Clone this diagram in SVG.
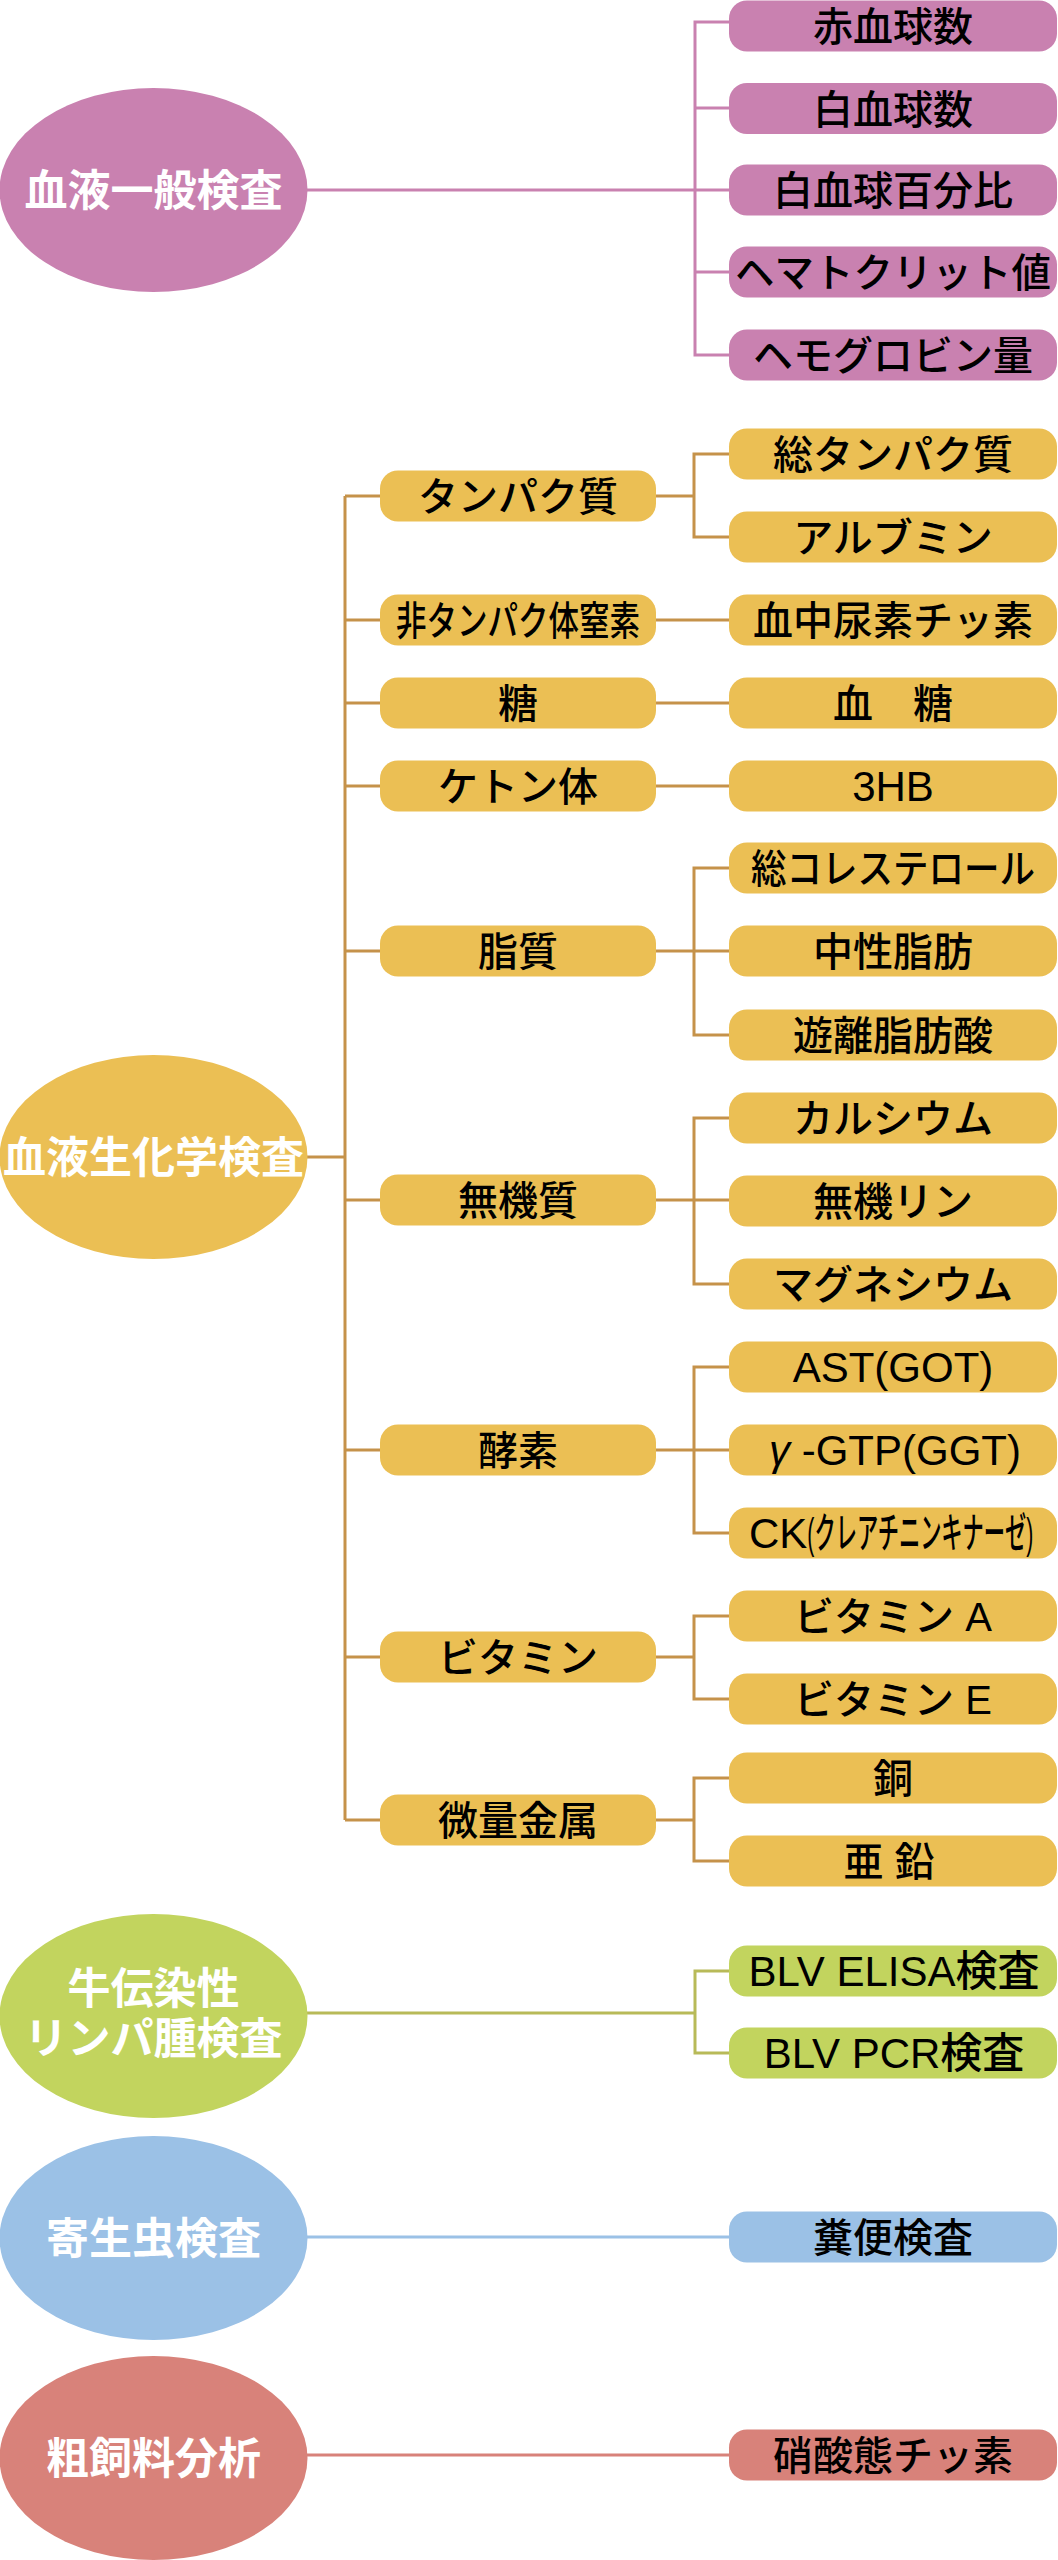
<svg xmlns="http://www.w3.org/2000/svg" width="1058" height="2560" viewBox="0 0 1058 2560">
<style>
text{font-family:"Liberation Sans","Noto Sans CJK JP",sans-serif;text-anchor:middle}
.t{font-size:40px;font-weight:500;fill:#000}
.l{font-size:42px;font-weight:500;fill:#000}
.e{font-size:43px;font-weight:bold;fill:#fff}
.c{fill:none;stroke-width:3}
.pk{fill:#C981B0}.gd{fill:#EBBF54}.gr{fill:#C2D45E}.bl{fill:#9BC1E6}.rd{fill:#D8827A}
.cpk{stroke:#C981B0}.cgd{stroke:#C5924A}.cgr{stroke:#B8BA58}.cbl{stroke:#9BC1E6}.crd{stroke:#D8827A}
</style>
<defs>
<rect id="b3" x="0" y="0" width="328" height="51" rx="18"/>
<rect id="b2" x="0" y="0" width="276" height="51" rx="18"/>
</defs>
<g id="connectors">
<path class="c cpk" d="M307,190 H729 M729,22 H695 V355 H729 M695,108 H729 M695,272 H729"/>
<path class="c cgd" d="M307,1157 H345 M345,496 V1820 M345,496 H380 M345,620 H380 M345,703 H380 M345,786 H380 M345,951 H380 M345,1200 H380 M345,1450 H380 M345,1657 H380 M345,1820 H380"/>
<path class="c cgd" d="M656,496 H694 M729,454 H694 V537 H729"/>
<path class="c cgd" d="M656,620 H729 M656,703 H729 M656,786 H729"/>
<path class="c cgd" d="M656,951 H729 M729,868 H694 V1035 H729"/>
<path class="c cgd" d="M656,1200 H729 M729,1118 H694 V1284 H729"/>
<path class="c cgd" d="M656,1450 H729 M729,1367 H694 V1533 H729"/>
<path class="c cgd" d="M656,1657 H694 M729,1616 H694 V1699 H729"/>
<path class="c cgd" d="M656,1820 H694 M729,1778 H694 V1861 H729"/>
<path class="c cgr" d="M307,2013 H695 M729,1971 H695 V2053 H729"/>
<path class="c cbl" d="M307,2237 H729"/>
<path class="c crd" d="M307,2455 H729"/>
</g>

<g id="blood-general">
<ellipse class="pk" cx="153.5" cy="190" rx="154" ry="102"/>
<text class="e" x="153.5" y="206">血液一般検査</text>
</g>
<g id="rbc"><use href="#b3" class="pk" x="729" y="0.5"/><text class="t" x="893" y="41">赤血球数</text></g>
<g id="wbc"><use href="#b3" class="pk" x="729" y="83"/><text class="t" x="893" y="123.5">白血球数</text></g>
<g id="wbc-diff"><use href="#b3" class="pk" x="729" y="164.5"/><text class="t" x="893" y="205">白血球百分比</text></g>
<g id="hct"><use href="#b3" class="pk" x="729" y="246.5"/><text class="t" x="893" y="287" textLength="316" lengthAdjust="spacingAndGlyphs">ヘマトクリット値</text></g>
<g id="hgb"><use href="#b3" class="pk" x="729" y="329.5"/><text class="t" x="893" y="370">ヘモグロビン量</text></g>

<g id="blood-chem">
<ellipse class="gd" cx="153.5" cy="1157" rx="154" ry="102"/>
<text class="e" x="153.5" y="1173">血液生化学検査</text>
</g>
<g id="protein"><use href="#b2" class="gd" x="380" y="470.5"/><text class="t" x="518" y="511">タンパク質</text></g>
<g id="npn"><use href="#b2" class="gd" x="380" y="594.5"/><text class="t" x="518" y="635" textLength="244" lengthAdjust="spacingAndGlyphs">非タンパク体窒素</text></g>
<g id="sugar"><use href="#b2" class="gd" x="380" y="677.5"/><text class="t" x="518" y="718">糖</text></g>
<g id="ketone"><use href="#b2" class="gd" x="380" y="760.5"/><text class="t" x="518" y="801">ケトン体</text></g>
<g id="lipid"><use href="#b2" class="gd" x="380" y="925.5"/><text class="t" x="518" y="966">脂質</text></g>
<g id="mineral"><use href="#b2" class="gd" x="380" y="1174.5"/><text class="t" x="518" y="1215">無機質</text></g>
<g id="enzyme"><use href="#b2" class="gd" x="380" y="1424.5"/><text class="t" x="518" y="1465">酵素</text></g>
<g id="vitamin"><use href="#b2" class="gd" x="380" y="1631.5"/><text class="t" x="518" y="1672">ビタミン</text></g>
<g id="trace-metal"><use href="#b2" class="gd" x="380" y="1794.5"/><text class="t" x="518" y="1835">微量金属</text></g>

<g id="total-protein"><use href="#b3" class="gd" x="729" y="428.5"/><text class="t" x="893" y="469">総タンパク質</text></g>
<g id="albumin"><use href="#b3" class="gd" x="729" y="511.5"/><text class="t" x="893" y="552">アルブミン</text></g>
<g id="bun"><use href="#b3" class="gd" x="729" y="594.5"/><text class="t" x="893" y="635">血中尿素チッ素</text></g>
<g id="glucose"><use href="#b3" class="gd" x="729" y="677.5"/><text class="t" x="893" y="718">血　糖</text></g>
<g id="3hb"><use href="#b3" class="gd" x="729" y="760.5"/><text class="l" x="893" y="801">3HB</text></g>
<g id="tcho"><use href="#b3" class="gd" x="729" y="842.5"/><text class="t" x="893" y="883" textLength="284" lengthAdjust="spacingAndGlyphs">総コレステロール</text></g>
<g id="tg"><use href="#b3" class="gd" x="729" y="925.5"/><text class="t" x="893" y="966">中性脂肪</text></g>
<g id="nefa"><use href="#b3" class="gd" x="729" y="1009.5"/><text class="t" x="893" y="1050">遊離脂肪酸</text></g>
<g id="ca"><use href="#b3" class="gd" x="729" y="1092.5"/><text class="t" x="893" y="1133">カルシウム</text></g>
<g id="ip"><use href="#b3" class="gd" x="729" y="1175.5"/><text class="t" x="893" y="1216">無機リン</text></g>
<g id="mg"><use href="#b3" class="gd" x="729" y="1258.5"/><text class="t" x="893" y="1299">マグネシウム</text></g>
<g id="ast"><use href="#b3" class="gd" x="729" y="1341.5"/><text class="l" x="893" y="1382">AST(GOT)</text></g>
<g id="ggt"><use href="#b3" class="gd" x="729" y="1424.5"/><text class="l" x="895" y="1465"><tspan font-style="italic">γ</tspan> -GTP(GGT)</text></g>
<g id="ck"><use href="#b3" class="gd" x="729" y="1507.5"/><text class="l" x="749" y="1548" style="text-anchor:start">CK<tspan textLength="226" lengthAdjust="spacingAndGlyphs">(クレアチニンキナーゼ)</tspan></text></g>
<g id="vit-a"><use href="#b3" class="gd" x="729" y="1590.5"/><text class="t" x="893" y="1631">ビタミン A</text></g>
<g id="vit-e"><use href="#b3" class="gd" x="729" y="1673.5"/><text class="t" x="893" y="1714">ビタミン E</text></g>
<g id="cu"><use href="#b3" class="gd" x="729" y="1752.5"/><text class="t" x="893" y="1793">銅</text></g>
<g id="zn"><use href="#b3" class="gd" x="729" y="1835.5"/><text class="t" x="889" y="1876">亜 鉛</text></g>

<g id="blv">
<ellipse class="gr" cx="153.5" cy="2016" rx="154" ry="102"/>
<text class="e" x="153.5" y="2004">牛伝染性</text>
<text class="e" x="153.5" y="2054">リンパ腫検査</text>
</g>
<g id="blv-elisa"><use href="#b3" class="gr" x="729" y="1945.5"/><text class="l" x="894" y="1986">BLV ELISA検査</text></g>
<g id="blv-pcr"><use href="#b3" class="gr" x="729" y="2027.5"/><text class="l" x="894" y="2068">BLV PCR検査</text></g>

<g id="parasite">
<ellipse class="bl" cx="153.5" cy="2238" rx="154" ry="102"/>
<text class="e" x="153.5" y="2254">寄生虫検査</text>
</g>
<g id="fecal"><use href="#b3" class="bl" x="729" y="2211.5"/><text class="t" x="893" y="2252">糞便検査</text></g>

<g id="forage">
<ellipse class="rd" cx="153.5" cy="2458" rx="154" ry="102"/>
<text class="e" x="153.5" y="2474">粗飼料分析</text>
</g>
<g id="nitrate"><use href="#b3" class="rd" x="729" y="2429.5"/><text class="t" x="893" y="2470">硝酸態チッ素</text></g>
</svg>
